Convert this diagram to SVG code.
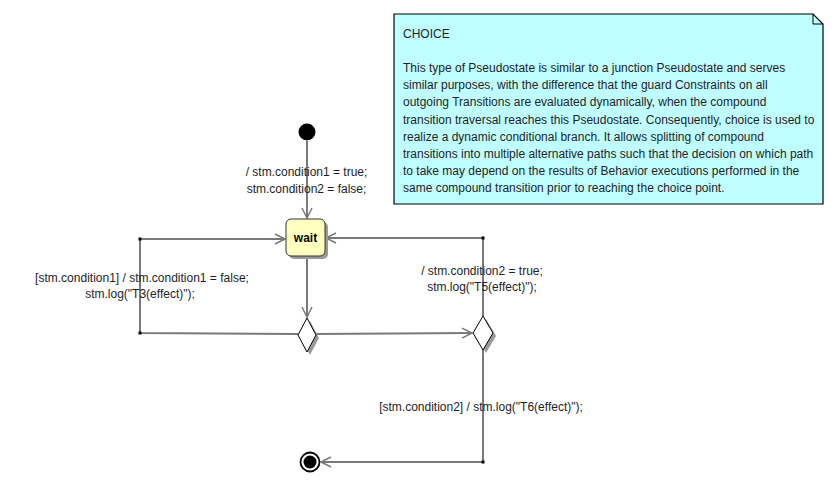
<svg xmlns="http://www.w3.org/2000/svg" width="835" height="486" viewBox="0 0 835 486">
<style>
.t{font-family:"Liberation Sans",Arial,sans-serif;font-size:12px;fill:#1e1e28}
.lbl{text-anchor:middle}
.ln{fill:none;stroke:#7a7a7a;stroke-width:2}
.dot{fill:#000}
</style>
<defs>
<marker id="arr" markerUnits="userSpaceOnUse" markerWidth="14" markerHeight="14" refX="11" refY="6" orient="auto" viewBox="0 0 14 12">
<path d="M1,1 L11,6 L1,11" fill="none" stroke="#7a7a7a" stroke-width="1.5"/>
</marker>
</defs>
<rect width="835" height="486" fill="#fff"/>
<g id="note">
<path d="M394,14 L813,14 L823,24 L823,204 L394,204 Z" fill="#c0ffff" stroke="#000" stroke-width="1.2"/>
<path d="M813,14 L813,24 L823,24" fill="none" stroke="#000" stroke-width="1"/>
<text class="t" x="403" y="38">CHOICE</text>
<text class="t" x="403" y="72">This type of Pseudostate is similar to a junction Pseudostate and serves</text>
<text class="t" x="403" y="89">similar purposes, with the difference that the guard Constraints on all</text>
<text class="t" x="403" y="106">outgoing Transitions are evaluated dynamically, when the compound</text>
<text class="t" x="403" y="123.5">transition traversal reaches this Pseudostate. Consequently, choice is used to</text>
<text class="t" x="403" y="141">realize a dynamic conditional branch. It allows splitting of compound</text>
<text class="t" x="403" y="158">transitions into multiple alternative paths such that the decision on which path</text>
<text class="t" x="403" y="175">to take may depend on the results of Behavior executions performed in the</text>
<text class="t" x="403" y="191.5">same compound transition prior to reaching the choice point.</text>
</g>
<g id="connectors">
<path class="ln" d="M307,141 L307,218" marker-end="url(#arr)"/>
<path class="ln" d="M307,257 L307,317" marker-end="url(#arr)"/>
<path class="ln" d="M298,334 L140,333 L140,239 L285,239" marker-end="url(#arr)"/>
<path class="ln" d="M316,334 L472,333" marker-end="url(#arr)"/>
<path class="ln" d="M483,316 L483,238 L326,238" marker-end="url(#arr)"/>
<path class="ln" d="M483,350 L483,462 L321,462" marker-end="url(#arr)"/>
<rect class="dot" x="138.5" y="237.5" width="3" height="3"/>
<rect class="dot" x="138.5" y="331.5" width="3" height="3"/>
<rect class="dot" x="481.5" y="236.5" width="3" height="3"/>
<rect class="dot" x="481.5" y="460.5" width="3" height="3"/>
<text class="t lbl" x="306.5" y="176">/ stm.condition1 = true;</text>
<text class="t lbl" x="306.5" y="193">stm.condition2 = false;</text>
<text class="t lbl" x="142" y="282">[stm.condition1] / stm.condition1 = false;</text>
<text class="t lbl" x="140" y="298">stm.log("T3(effect)");</text>
<text class="t lbl" x="482" y="275">/ stm.condition2 = true;</text>
<text class="t lbl" x="482" y="291">stm.log("T5(effect)");</text>
<text class="t lbl" x="481" y="411">[stm.condition2] / stm.log("T6(effect)");</text>
</g>
<g id="initial">
<circle cx="307" cy="132" r="8.5" fill="#000"/>
</g>
<g id="wait">
<rect x="289" y="222" width="39" height="37" rx="5" fill="#9a9a9a"/>
<rect x="286" y="219" width="39" height="37" rx="5" fill="#ffffc0" stroke="#333" stroke-width="1"/>
<text x="305.5" y="242" text-anchor="middle" font-family="Liberation Sans,Arial,sans-serif" font-size="12" font-weight="bold" fill="#000">wait</text>
</g>
<g id="choice1">
<path d="M310,321 L319,338 L310,355 L301,338 Z" fill="#9a9a9a"/>
<path d="M307,318 L316,335 L307,352 L298,335 Z" fill="#fff" stroke="#000" stroke-width="1"/>
</g>
<g id="choice2">
<path d="M486,319 L496,336 L486,353 L476,336 Z" fill="#9a9a9a"/>
<path d="M483,316 L493,333 L483,350 L473,333 Z" fill="#fff" stroke="#000" stroke-width="1"/>
</g>
<g id="final">
<circle cx="310" cy="462" r="9.5" fill="#fff" stroke="#000" stroke-width="1.8"/>
<circle cx="310" cy="462" r="6.5" fill="#000"/>
</g>
</svg>
